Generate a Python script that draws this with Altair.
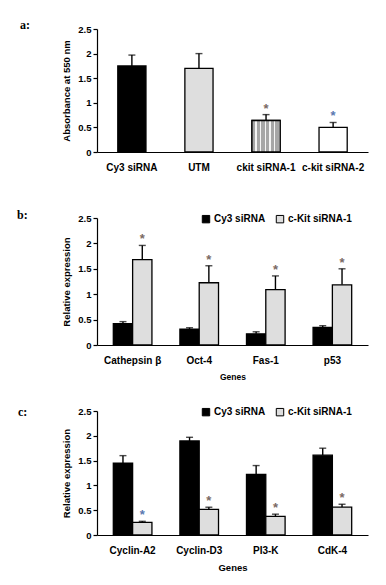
import altair as alt
import pandas as pd

# ---------------- data ----------------
cats_a = ["Cy3 siRNA", "UTM", "ckit siRNA-1", "c-kit siRNA-2"]
vals_a = [1.75, 1.70, 0.64, 0.50]
upper_a = [1.97, 2.00, 0.76, 0.60]
star_a = [False, False, True, True]
starcol_a = ["#7a6a64", "#7a6a64", "#7a6a64", "#5a78b0"]

groups = ["Cy3 siRNA", "c-Kit siRNA-1"]

genes_b = ["Cathepsin β", "Oct-4", "Fas-1", "p53"]
cy3_b = [0.42, 0.31, 0.22, 0.345]
cy3_b_up = [0.46, 0.34, 0.26, 0.38]
ckit_b = [1.68, 1.225, 1.09, 1.185]
ckit_b_up = [1.96, 1.56, 1.36, 1.50]
starcol_b = ["#7a6a64", "#7a6a64", "#7a6a64", "#7a6a64"]

genes_c = ["Cyclin-A2", "Cyclin-D3", "PI3-K", "CdK-4"]
cy3_c = [1.45, 1.895, 1.22, 1.61]
cy3_c_up = [1.60, 1.97, 1.40, 1.75]
ckit_c = [0.256, 0.518, 0.377, 0.56]
ckit_c_up = [0.276, 0.56, 0.42, 0.62]
starcol_c = ["#5a78b0", "#7a6a64", "#7a6a64", "#7a6a64"]

y_ticks = [0, 0.5, 1, 1.5, 2, 2.5]

FONT = "Liberation Sans"
SERIF = "Liberation Serif"
W = 271


def yaxis(title):
    return alt.Axis(title=title, values=y_ticks, format="~g", labelOverlap=False,
                    labelFlush=False, labelBound=False, grid=False,
                    domainColor="black", domainWidth=1.2, tickColor="black", tickWidth=1.2,
                    ticks=True, tickSize=4, labelPadding=2, labelFont=FONT, labelFontSize=9.5,
                    labelFontWeight="bold", labelColor="black", titleFont=FONT,
                    titleFontSize=9.5, titleFontWeight="bold", titleColor="black",
                    titlePadding=6)


def Y(field, title):
    return alt.Y(field, scale=alt.Scale(domain=[0, 2.5], nice=False, zero=True),
                 axis=yaxis(title))


def xaxis(title, tsize=9.5):
    kw = dict(labelAngle=0, ticks=False, domainColor="black", domainWidth=1.2,
              labelPadding=10, labelFont=FONT, labelFontSize=10, labelFontWeight="bold",
              labelColor="black", labelLimit=0, grid=False)
    if title:
        kw.update(title=title, titleFont=FONT, titleFontSize=tsize, titleFontWeight="bold",
                  titleColor="black", titlePadding=7)
    else:
        kw.update(title=None)
    return alt.Axis(**kw)


def panel_label(text, dx, dy):
    return alt.Chart(pd.DataFrame({"t": [text]})).mark_text(
        font=SERIF, fontWeight="bold", fontSize=12, align="left", baseline="middle",
        color="black").encode(x=alt.value(dx), y=alt.value(dy), text="t:N")


# ---------------- panel a ----------------
TA = "Absorbance at 550 nm"
df_a = pd.DataFrame({"cat": cats_a, "value": vals_a, "upper": upper_a,
                     "star": star_a, "sc": starcol_a})
xa = alt.X("cat:N", sort=cats_a, scale=alt.Scale(paddingInner=0.58, paddingOuter=0.31),
           axis=xaxis(None))
base_a = alt.Chart(df_a).encode(x=xa)
rule_a = base_a.mark_rule(color="black", strokeWidth=1.4).encode(
    y=Y("value:Q", TA), y2="upper:Q")
cap_a = base_a.mark_tick(color="black", size=7, thickness=1.4).encode(y=Y("upper:Q", TA))
bars_a = base_a.mark_bar(stroke="black", strokeWidth=1.3).encode(
    y=Y("value:Q", TA),
    fill=alt.Fill("cat:N", sort=cats_a,
                  scale=alt.Scale(domain=cats_a, range=["black", "#dedede", "#aaaaaa", "white"]),
                  legend=None))
n = 6
stops = []
for i in range(n):
    a0 = i / n
    a1 = (i + 0.72) / n
    a2 = (i + 1) / n
    stops += [alt.GradientStop(offset=a0, color="#a6a6a6"),
              alt.GradientStop(offset=a1, color="#a6a6a6"),
              alt.GradientStop(offset=a1, color="#f4f4f4"),
              alt.GradientStop(offset=a2, color="#f4f4f4")]
stripe = alt.LinearGradient(gradient="linear", stops=stops, x1=0, x2=1, y1=0, y2=0)
stripe_a = base_a.mark_bar(stroke="black", strokeWidth=1.3, fill=stripe).encode(
    y=Y("value:Q", TA)).transform_filter(alt.datum.cat == "ckit siRNA-1")
star_layer_a = base_a.mark_text(text="*", font=FONT, fontSize=13, fontWeight="bold",
                                baseline="alphabetic", dy=-2).encode(
    y=Y("upper:Q", TA), color=alt.Color("sc:N", scale=None)).transform_filter(alt.datum.star)
panel_a = alt.layer(rule_a, cap_a, bars_a, stripe_a, star_layer_a,
                    panel_label("a:", -77, -4)).properties(width=W, height=123)


# ---------------- grouped panels ----------------
def grouped(genes, cy3, cy3_up, ckit, ckit_up, starcols, height, label, ldx, ldy, gtsize):
    TT = "Relative expression"
    rows = []
    for i, g in enumerate(genes):
        rows.append({"gene": g, "group": groups[0], "value": cy3[i], "upper": cy3_up[i],
                     "star": False, "sc": starcols[i]})
        rows.append({"gene": g, "group": groups[1], "value": ckit[i], "upper": ckit_up[i],
                     "star": True, "sc": starcols[i]})
    df = pd.DataFrame(rows)
    base = alt.Chart(df).encode(
        x=alt.X("gene:N", sort=genes, scale=alt.Scale(paddingInner=0.42, paddingOuter=0.245),
                axis=xaxis("Genes", gtsize)),
        xOffset=alt.XOffset("group:N", sort=groups, scale=alt.Scale(paddingInner=0, paddingOuter=0)))
    rule = base.mark_rule(color="black", strokeWidth=1.4).encode(
        y=Y("value:Q", TT), y2="upper:Q")
    cap = base.mark_tick(color="black", size=7, thickness=1.4).encode(y=Y("upper:Q", TT))
    bars = base.mark_bar(stroke="black", strokeWidth=1.3).encode(
        y=Y("value:Q", TT),
        fill=alt.Fill("group:N", sort=groups,
                      scale=alt.Scale(domain=groups, range=["black", "#dedede"]),
                      legend=alt.Legend(title=None, orient="none", legendX=104, legendY=-4,
                                        direction="horizontal", symbolType="square",
                                        symbolSize=55, symbolStrokeColor="black",
                                        symbolStrokeWidth=1, labelFont=FONT, labelFontSize=10,
                                        labelFontWeight="bold", labelColor="black",
                                        columnPadding=8, labelOffset=3, padding=0)))
    stars = base.mark_text(text="*", font=FONT, fontSize=13, fontWeight="bold",
                           baseline="alphabetic", dy=-2).encode(
        y=Y("upper:Q", TT), color=alt.Color("sc:N", scale=None)).transform_filter(alt.datum.star)
    return alt.layer(rule, cap, bars, stars, panel_label(label, ldx, ldy)).properties(
        width=W, height=height)


panel_b = grouped(genes_b, cy3_b, cy3_b_up, ckit_b, ckit_b_up, starcol_b, 127, "b:", -80, -3, 8.5)
panel_c = grouped(genes_c, cy3_c, cy3_c_up, ckit_c, ckit_c_up, starcol_c, 124, "c:", -79, 1, 9.5)

chart = alt.vconcat(panel_a, panel_b, panel_c, spacing=66, bounds="flush").resolve_scale(
    x="independent", y="independent", fill="independent", xOffset="independent"
).resolve_legend(fill="independent").properties(
    padding={"left": 9, "top": 11, "right": 5, "bottom": 5},
    background="white",
).configure_view(stroke=None)

chart.save("out.html", embed_options={"renderer": "svg", "actions": False})
